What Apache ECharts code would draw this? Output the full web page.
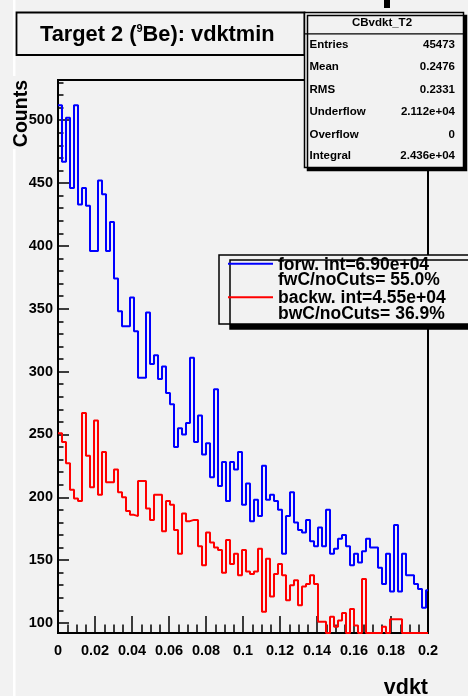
<!DOCTYPE html>
<html><head><meta charset="utf-8">
<script src="https://cdn.jsdelivr.net/npm/echarts@6/dist/echarts.min.js"></script>
<style>html,body{margin:0;padding:0;background:#f2f2f2}#c{width:468px;height:696px}</style>
</head><body><div id="c"></div>
<script>
// histogram bin width along vdkt (about 4 px per bin)
const binWidth = 0.0021622;
// forward (blue) counts per bin starting at vdkt = 0
const forwCounts = [512, 467, 502, 446, 512, 433, 446, 432, 396, 396,
  452, 441, 396, 419, 374, 348, 336, 336, 359, 332,
  295, 295, 347, 306, 313, 294, 304, 283, 274, 240,
  255, 250, 259, 311, 244, 265, 234, 243, 216, 286,
  209, 228, 197, 228, 222, 236, 194, 211, 181, 198,
  185, 225, 198, 202, 197, 190, 155, 185, 204, 180,
  174, 172, 182, 165, 161, 176, 161, 190, 155, 159,
  167, 170, 161, 146, 155, 148, 157, 167, 160, 160,
  144, 131, 155, 125, 178, 125, 155, 138, 138, 131,
  127, 112, 126];
// backward (red) counts per bin
const backwCounts = [251, 244, 227, 206, 199, 197, 267, 233, 208, 261,
  202, 236, 212, 212, 222, 204, 200, 189, 186, 185,
  213, 213, 191, 182, 202, 202, 173, 197, 194, 174,
  155, 187, 181, 182, 182, 161, 146, 172, 164, 160,
  158, 140, 166, 147, 155, 138, 158, 141, 139, 141,
  159, 109, 151, 121, 139, 147, 138, 118, 130, 134,
  114, 129, 131, 138, 131, 101, 101, 88, 105, 97,
  102, 108, 88, 111, 98, 88, 135, 85, 85, 85,
  85, 97, 85, 103, 103, 103, 85, 85, 85, 85,
  85, 85, 85];
const seriesNames = ['forw. int=6.90e+04', 'backw. int=4.55e+04'];
const seriesSubLines = ['fwC/noCuts= 55.0%', 'bwC/noCuts= 36.9%'];
const seriesColors = ['#0000ff', '#ff0000'];
const statTitle = 'CBvdkt_T2';
const statLabels = ['Entries', 'Mean', 'RMS', 'Underflow', 'Overflow', 'Integral'];
const statValues = ['45473', '0.2476', '0.2331', '2.112e+04', '0', '2.436e+04'];
const yMin = 92, yMax = 532;
const xMin = 0, xMax = 0.2;

const FONT = "'Liberation Sans', Arial, Helvetica, sans-serif";
const BG = '#f2f2f2';

// outline points of a histogram; contents below the frame are drawn on the frame bottom (as ROOT does)
function histPoints(counts) {
  const pts = counts.map((c, i) => [i * binWidth, Math.max(c, yMin)]);
  pts.push([Math.min(counts.length * binWidth, xMax), Math.max(counts[counts.length - 1], yMin)]);
  return pts;
}

const chart = echarts.init(document.getElementById('c'), null, {renderer: 'canvas'});

const statRowY = [45, 67.3, 90, 112, 134.7, 155.7];
const statGraphics = [];
statLabels.forEach((lab, i) => {
  statGraphics.push({type: 'text', x: 309.5, y: statRowY[i], z: 101,
    style: {text: lab, font: 'bold 11.5px ' + FONT, fill: '#000', textAlign: 'left', textVerticalAlign: 'middle'}});
  statGraphics.push({type: 'text', x: 455, y: statRowY[i], z: 101,
    style: {text: statValues[i], font: 'bold 11.5px ' + FONT, fill: '#000', textAlign: 'right', textVerticalAlign: 'middle'}});
});

const option = {
  animation: false,
  backgroundColor: BG,
  title: {
    text: '{a|Target 2 (}{s|9}{a|Be): vdktmin}',
    left: 40, top: 22, padding: 0, z: 20,
    textStyle: {
      rich: {
        a: {fontFamily: FONT, fontWeight: 'bold', fontSize: 21.8, color: '#000', lineHeight: 26},
        s: {fontFamily: FONT, fontWeight: 'bold', fontSize: 11, color: '#000', padding: [0, 0, 12, 0]}
      }
    }
  },
  legend: {
    orient: 'vertical',
    left: 219, top: 255,
    padding: [1, 40, 1, 9],
    itemGap: 0,
    itemWidth: 45, itemHeight: 30,
    itemTextGap: 6,
    icon: 'path://M0 0H0.01V0.01H0Z M0 5H45V7H0Z M0 29.99H0.01V30H0Z',
    backgroundColor: BG,
    borderColor: '#000', borderWidth: 1.5,
    shadowColor: '#000', shadowBlur: 0, shadowOffsetX: 11, shadowOffsetY: 5,
    selectedMode: false,
    data: seriesNames,
    formatter: name => name + '\n' + seriesSubLines[seriesNames.indexOf(name)],
    textStyle: {fontFamily: FONT, fontWeight: 'bold', fontSize: 17.5, lineHeight: 15.5, color: '#000'},
    z: 50
  },
  grid: {
    left: 58, right: 40, top: 80, bottom: 63,
    containLabel: false, outerBoundsMode: 'none',
    show: true, backgroundColor: BG, borderColor: '#000', borderWidth: 2
  },
  xAxis: {
    type: 'value', min: xMin, max: xMax, interval: 0.02,
    name: 'vdkt', nameLocation: 'end', nameGap: 0, nameMoveOverlap: false,
    nameTextStyle: {fontFamily: FONT, fontWeight: 'bold', fontSize: 21.5, color: '#000', align: 'right', verticalAlign: 'top', padding: [44, 0, 0, 0]},
    axisLine: {show: true, onZero: false, lineStyle: {color: '#000', width: 2}},
    axisTick: {show: true, inside: true, length: 17, lineStyle: {color: '#000', width: 1.5}},
    minorTick: {show: true, splitNumber: 4, length: 8.5, lineStyle: {color: '#000', width: 1.5}},
    splitLine: {show: false}, minorSplitLine: {show: false},
    axisLabel: {margin: 10, fontFamily: FONT, fontWeight: 'bold', fontSize: 14.5, color: '#000'}
  },
  yAxis: {
    type: 'value', min: yMin, max: yMax, splitNumber: 9, minInterval: 50, maxInterval: 50,
    name: 'Counts', nameLocation: 'end', nameGap: 0, nameRotate: 90, nameMoveOverlap: false,
    nameTextStyle: {fontFamily: FONT, fontWeight: 'bold', fontSize: 19.5, color: '#000', align: 'right', verticalAlign: 'bottom', padding: [0, 0, 26, 0]},
    axisLine: {show: true, onZero: false, lineStyle: {color: '#000', width: 2}},
    axisTick: {show: true, inside: true, length: 11, lineStyle: {color: '#000', width: 1.5}},
    minorTick: {show: true, splitNumber: 5, length: 5.5, lineStyle: {color: '#000', width: 1.5}},
    splitLine: {show: false}, minorSplitLine: {show: false},
    axisLabel: {margin: 5, fontFamily: FONT, fontWeight: 'bold', fontSize: 14.5, color: '#000', showMinLabel: false, showMaxLabel: false}
  },
  series: [
    {name: seriesNames[0], type: 'line', step: 'end', symbol: 'none', showSymbol: false, clip: false,
     data: histPoints(forwCounts), lineStyle: {color: seriesColors[0], width: 2}, itemStyle: {color: seriesColors[0]}, z: 3},
    {name: seriesNames[1], type: 'line', step: 'end', symbol: 'none', showSymbol: false, clip: false,
     data: histPoints(backwCounts), lineStyle: {color: seriesColors[1], width: 2}, itemStyle: {color: seriesColors[1]}, z: 4}
  ],
  graphic: [
    {type: 'rect', z: 1, shape: {x: 13, y: 0, width: 2.5, height: 76}, style: {fill: '#ffffff'}},
    {type: 'rect', z: 1, shape: {x: 13, y: 149, width: 2.5, height: 547}, style: {fill: '#ffffff'}},
    {type: 'rect', z: 1, shape: {x: 384, y: 0, width: 6, height: 8}, style: {fill: '#000'}},
    {type: 'rect', z: 5, shape: {x: 16.5, y: 12.5, width: 288, height: 42.5}, style: {fill: BG, stroke: '#000', lineWidth: 1.8}},
    {type: 'rect', z: 100, shape: {x: 304.5, y: 12.5, width: 159, height: 155},
     style: {fill: BG, stroke: '#000', lineWidth: 1.5, shadowColor: '#000', shadowBlur: 0, shadowOffsetX: 3, shadowOffsetY: 3}},
    {type: 'line', z: 101, shape: {x1: 304.5, y1: 33.8, x2: 463.5, y2: 33.8}, style: {stroke: '#000', lineWidth: 1.2}},
    {type: 'text', z: 101, x: 382, y: 23, style: {text: statTitle, font: 'bold 11.5px ' + FONT, fill: '#000', textAlign: 'center', textVerticalAlign: 'middle'}}
  ].concat(statGraphics)
};
chart.setOption(option);
</script>
</body></html>
